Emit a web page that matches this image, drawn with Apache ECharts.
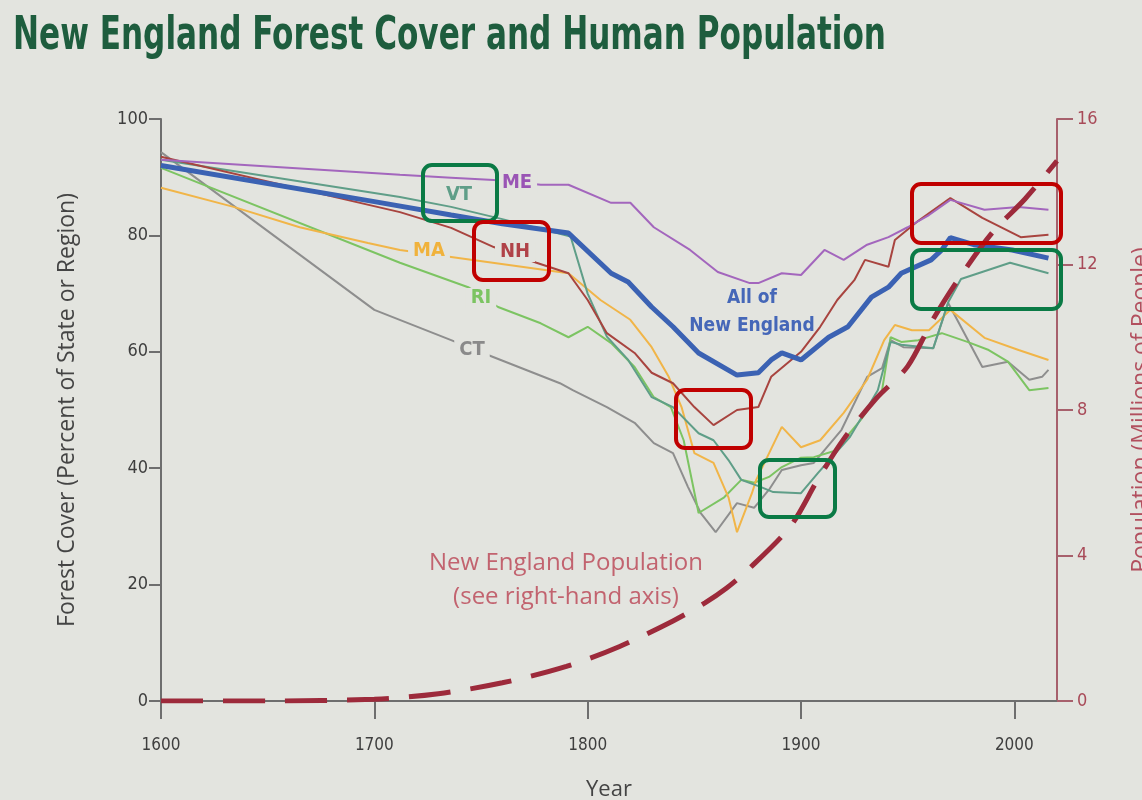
<!DOCTYPE html>
<html><head><meta charset="utf-8">
<script src="https://cdn.jsdelivr.net/npm/echarts@6/dist/echarts.min.js"></script>
<style>html,body{margin:0;padding:0;background:#e3e4df}#c{width:1142px;height:800px}</style>
</head><body><div id="c"></div>
<script>
// ---- data (year, value) ----
const yearTicks = [1600, 1700, 1800, 1900, 2000];
const forestTicks = [0, 20, 40, 60, 80, 100];
const popTicks = [0, 4, 8, 12, 16];

const allNewEngland = [[1600,92],[1700,85.8],[1736,83.5],[1760,82],[1791,80.4],[1811,73.5],[1819,72],[1830,67.7],[1840,64.3],[1852,59.8],[1870,56],[1880,56.4],[1886,58.6],[1891,59.8],[1900,58.6],[1913,62.5],[1922,64.3],[1933,69.4],[1941,71.1],[1947,73.5],[1961,75.8],[1966,77.5],[1970,79.6],[1981,78.4],[1999,77.5],[2016,76.1]];
const maine = [[1600,93],[1712,90.4],[1736,89.9],[1756,89.5],[1778,88.7],[1791,88.7],[1811,85.6],[1820,85.6],[1831,81.4],[1848,77.5],[1861,73.7],[1876,71.8],[1880,71.8],[1891,73.5],[1900,73.2],[1911,77.5],[1920,75.8],[1931,78.4],[1941,79.7],[1950,81.4],[1960,83.5],[1970,86.1],[1986,84.4],[2002,84.9],[2016,84.4]];
const newHampshire = [[1600,93.5],[1712,84],[1736,81.3],[1756,78],[1776,75.3],[1791,73.5],[1800,68.9],[1809,63.2],[1822,59.8],[1830,56.4],[1840,54.6],[1850,50.5],[1859,47.4],[1870,50],[1880,50.5],[1886,55.7],[1900,60],[1909,64.3],[1917,68.9],[1925,72.3],[1930,75.8],[1941,74.6],[1944,79.2],[1955,82.5],[1970,86.4],[1985,83],[2003,79.7],[2016,80.1]];
const vermont = [[1600,93],[1712,86.6],[1736,84.9],[1760,82.8],[1792,79.8],[1800,70],[1809,62.6],[1819,58.6],[1830,52.2],[1840,50.5],[1852,46],[1859,44.8],[1866,41.4],[1872,38],[1881,36.8],[1887,35.9],[1900,35.7],[1908,39.2],[1923,45.4],[1936,53.4],[1942,61.7],[1947,61.2],[1962,60.6],[1969,68.5],[1975,72.5],[1998,75.3],[2016,73.5]];
const massachusetts = [[1600,88.2],[1634,84.9],[1665,81.4],[1697,78.7],[1712,77.5],[1736,76.3],[1791,73.5],[1806,68.9],[1820,65.5],[1830,60.8],[1838,55.7],[1844,50.5],[1850,42.6],[1859,40.9],[1866,35],[1870,29],[1877,35.7],[1879,38],[1891,47.1],[1900,43.6],[1909,44.8],[1920,49.5],[1931,55.2],[1939,62],[1944,64.6],[1952,63.7],[1960,63.7],[1970,67.2],[1986,62.4],[2002,60.3],[2016,58.6]];
const rhodeIsland = [[1600,91.6],[1712,75.3],[1744,71.1],[1758,67.7],[1778,64.9],[1791,62.5],[1800,64.3],[1811,61.5],[1822,57.4],[1831,52.2],[1839,50.5],[1845,44.8],[1852,32.3],[1864,35],[1872,38],[1878,37.5],[1885,38.5],[1891,40.2],[1900,41.8],[1906,41.9],[1916,43],[1928,48.3],[1938,53.4],[1942,62.5],[1947,61.7],[1955,62],[1966,63.2],[1978,61.7],[1988,60.3],[1997,58.3],[2007,53.4],[2016,53.8]];
const connecticut = [[1600,94.3],[1700,67.2],[1736,62],[1753,59.5],[1787,54.6],[1793,53.4],[1809,50.5],[1822,47.8],[1831,44.3],[1840,42.6],[1847,36.8],[1853,32.3],[1860,29],[1870,34],[1878,33.2],[1885,36.3],[1891,39.7],[1900,40.5],[1906,40.9],[1919,46.6],[1931,55.7],[1938,57.2],[1942,62],[1948,60.8],[1962,60.6],[1969,68.4],[1985,57.4],[1997,58.3],[2007,55.2],[2013,55.7],[2016,56.9]];
const population = [[1600,0],[1650,0],[1700,0.05],[1730,0.2],[1760,0.5],[1790,0.95],[1815,1.5],[1840,2.2],[1855,2.7],[1865,3.1],[1875,3.6],[1895,4.8],[1908,6.1],[1920,7.2],[1935,8.3],[1950,9.2],[1962,10.5],[1975,11.7],[1990,12.9],[2005,13.8],[2020,14.85]];

const BG = '#e3e4df';
const NARROW = '"DejaVu Sans Condensed","DejaVu Sans",sans-serif';
const SANS = '"Open Sans","Noto Sans",sans-serif';
const TITLE = 'New England Forest Cover and Human Population';
const TITLE_FONT = 'bold 46px ' + NARROW;

function measure(text, font) {
  const ctx = document.createElement('canvas').getContext('2d');
  ctx.font = font;
  return ctx.measureText(text).width;
}
const titleScale = 873 / measure(TITLE, TITLE_FONT);

function thin(name, data, color) {
  return { name, type: 'line', data, yAxisIndex: 0, symbol: 'none', z: 2,
    lineStyle: { color, width: 2 }, emphasis: { disabled: true } };
}

const chart = echarts.init(document.getElementById('c'), null, { renderer: 'canvas' });
const axisGray = '#6e6e6e';
const popColor = '#a7606c';

function lbl(text, x, y, color, size, bold, bg, lh) {
  const s = { text, x, y, fill: color, font: (bold ? 'bold ' : '') + size + 'px ' + NARROW, align: 'center', verticalAlign: 'middle' };
  if (lh) s.lineHeight = lh;
  if (bg) { s.backgroundColor = BG; s.padding = [0, 5]; }
  return { type: 'text', z: 50, style: s };
}
function box(x, y, w, h, color) {
  return { type: 'rect', z: 60, shape: { x, y, width: w, height: h, r: 9 }, style: { fill: 'none', stroke: color, lineWidth: 4 } };
}
const RED = '#c00000', GREEN = '#0a7a45';
const plain = v => String(v);

chart.setOption({
  backgroundColor: BG,
  animation: false,
  grid: { left: 161, top: 119, width: 896, height: 582, containLabel: false, outerBoundsMode: 'none' },
  xAxis: {
    type: 'value', min: 1600, max: 2020,
    name: 'Year', nameLocation: 'middle', nameGap: 78,
    nameTextStyle: { color: '#444', fontSize: 22, fontFamily: SANS },
    axisLine: { show: true, lineStyle: { color: axisGray, width: 2 } },
    axisTick: { show: true, length: 18, customValues: yearTicks, lineStyle: { color: axisGray, width: 2 } },
    axisLabel: { customValues: yearTicks, formatter: plain, color: '#3e3e3e', fontSize: 17, fontFamily: NARROW, margin: 36 },
    splitLine: { show: false }
  },
  yAxis: [{
    type: 'value', min: 0, max: 100, interval: 20, position: 'left',
    name: 'Forest Cover (Percent of State or Region)', nameLocation: 'middle', nameGap: 82, nameRotate: 90,
    nameTextStyle: { color: '#444', fontSize: 23, fontFamily: SANS },
    axisLine: { show: true, lineStyle: { color: axisGray, width: 2 } },
    axisTick: { show: true, length: 12, lineStyle: { color: axisGray, width: 2 } },
    axisLabel: { formatter: plain, color: '#3e3e3e', fontSize: 18, fontFamily: NARROW, margin: 13 },
    splitLine: { show: false }
  }, {
    type: 'value', min: 0, max: 16, interval: 4, position: 'right',
    name: 'Population (Millions of People)', nameLocation: 'middle', nameGap: 73, nameRotate: 90,
    nameTextStyle: { color: '#b24f5e', fontSize: 23, fontFamily: SANS },
    axisLine: { show: true, lineStyle: { color: popColor, width: 2 } },
    axisTick: { show: true, length: 16, lineStyle: { color: popColor, width: 2 } },
    axisLabel: { formatter: plain, color: '#a84a58', fontSize: 18, fontFamily: NARROW, margin: 20 },
    splitLine: { show: false }
  }],
  series: [
    thin('CT', connecticut, '#8e8e8e'),
    thin('RI', rhodeIsland, '#7cc462'),
    thin('MA', massachusetts, '#f1b548'),
    thin('VT', vermont, '#5f9e88'),
    thin('NH', newHampshire, '#a8443f'),
    thin('ME', maine, '#a366bd'),
    { name: 'All of New England', type: 'line', data: allNewEngland, yAxisIndex: 0, symbol: 'none', z: 3,
      lineStyle: { color: '#3b62b3', width: 5 } },
    { name: 'Population', type: 'line', data: population, yAxisIndex: 1, symbol: 'none', z: 4, smooth: 0.3,
      lineStyle: { color: '#9d2a3b', width: 5, type: [42, 20] } }
  ],
  graphic: [
    { type: 'text', z: 50, x: 13, y: 14, scaleX: titleScale, style: { text: TITLE, x: 0, y: 0, verticalAlign: 'top', font: TITLE_FONT, fill: '#1e5d3e' } },
    lbl('VT', 459, 195, '#5f9e88', 20, true, false),
    lbl('ME', 517, 183, '#9a55b5', 20, true, true),
    lbl('NH', 515, 252, '#b04248', 20, true, true),
    lbl('MA', 429, 251, '#f0b23c', 20, true, true),
    lbl('RI', 481, 298, '#7cc462', 20, true, true),
    lbl('CT', 472, 350, '#8a8a8a', 20, true, true),
    lbl('All of\nNew England', 752, 312, '#4567b8', 19, true, false, 28),
    { type: 'text', z: 50, style: { text: 'New England Population\n(see right-hand axis)', x: 566, y: 580, align: 'center', verticalAlign: 'middle', fill: '#c2636f', font: '24px ' + SANS, lineHeight: 34 } },
    box(423, 165, 74, 56, GREEN),
    box(474, 222, 75, 58, RED),
    box(676, 390, 75, 58, RED),
    box(912, 184, 149, 59, RED),
    box(912, 250, 149, 59, GREEN),
    box(760, 460, 75, 57, GREEN)
  ]
});
</script></body></html>
